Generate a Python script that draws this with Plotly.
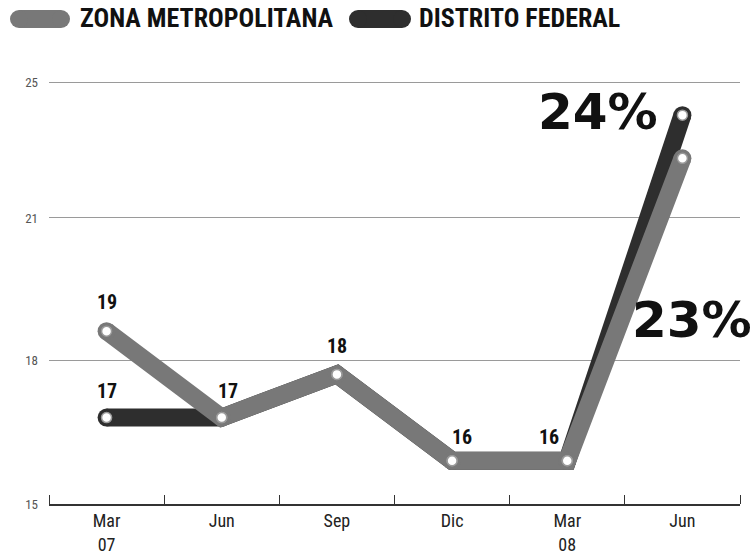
import plotly.graph_objects as go

periods = ["Mar 07", "Jun 07", "Sep 07", "Dic 07", "Mar 08", "Jun 08"]
tick_labels = ["Mar<br>07", "Jun", "Sep", "Dic", "Mar<br>08", "Jun"]
zona_metropolitana = [19, 17, 18, 16, 16, 23]
distrito_federal = [17, 17, 18, 16, 16, 24]
y_tick_labels = ["15", "18", "21", "25"]

x_idx = list(range(len(periods)))

ZM_COLOR = "#787878"
DF_COLOR = "#2e2e2e"
COND = "Roboto Condensed, Archivo Narrow, Asap Condensed, Roboto"

fig = go.Figure()
fig.add_trace(go.Scatter(x=x_idx, y=distrito_federal, mode="lines+markers",
                         line=dict(color=DF_COLOR, width=18),
                         marker=dict(color=DF_COLOR, size=18), hoverinfo="skip"))
fig.add_trace(go.Scatter(x=x_idx, y=zona_metropolitana, mode="lines+markers",
                         line=dict(color=ZM_COLOR, width=18),
                         marker=dict(color=ZM_COLOR, size=18), hoverinfo="skip"))
fig.add_trace(go.Scatter(x=x_idx, y=distrito_federal, mode="markers",
                         marker=dict(color="white", size=10, line=dict(color="#999", width=1.5))))
fig.add_trace(go.Scatter(x=x_idx, y=zona_metropolitana, mode="markers",
                         marker=dict(color="white", size=10, line=dict(color="#999", width=1.5))))

lab_font = dict(family=COND, size=20, color="#111", weight="bold")
ann = []
def lab(i, val, text, dx, dy, font=lab_font, xanchor="center"):
    ann.append(dict(x=x_idx[i], y=val, text=text, showarrow=False, xshift=dx, yshift=dy,
                    font=font, xanchor=xanchor, yanchor="middle"))

lab(0, zona_metropolitana[0], str(zona_metropolitana[0]), 0, 29)
lab(0, distrito_federal[0], str(distrito_federal[0]), 0, 27)
lab(1, zona_metropolitana[1], str(zona_metropolitana[1]), 6, 27)
lab(2, zona_metropolitana[2], str(zona_metropolitana[2]), 0, 28)
lab(3, zona_metropolitana[3], str(zona_metropolitana[3]), 10, 24)
lab(4, zona_metropolitana[4], str(zona_metropolitana[4]), -18, 24)
big = dict(family="DejaVu Sans", size=50, color="#111", weight="bold")
lab(5, distrito_federal[5], f"{distrito_federal[5]}%", -22, 3, font=big, xanchor="right")
lab(5, zona_metropolitana[5], f"{zona_metropolitana[5]}%", 72, -162, font=big, xanchor="right")

leg_font = dict(family=COND, size=26, color="#111", weight="bold")
ann.append(dict(xref="paper", yref="paper", x=0, y=1, xshift=29, yshift=28, xanchor="left", yanchor="middle",
                text="ZONA METROPOLITANA", showarrow=False, font=leg_font))
ann.append(dict(xref="paper", yref="paper", x=0, y=1, xshift=368, yshift=28, xanchor="left", yanchor="middle",
                text="DISTRITO FEDERAL", showarrow=False, font=leg_font))

shapes = []
def pill(x0, x1, color):
    r = 9
    common = dict(xref="paper", yref="paper", xsizemode="pixel", ysizemode="pixel", xanchor=0, yanchor=1,
                  fillcolor=color, line=dict(width=0), layer="above")
    shapes.append(dict(type="rect", x0=x0 + r, x1=x1 - r, y0=18, y1=36, **common))
    shapes.append(dict(type="circle", x0=x0, x1=x0 + 2 * r, y0=18, y1=36, **common))
    shapes.append(dict(type="circle", x0=x1 - 2 * r, x1=x1, y0=18, y1=36, **common))
pill(-39, 21, ZM_COLOR)
pill(300, 362, DF_COLOR)

fig.update_layout(
    width=753, height=559, margin=dict(l=49, r=13, t=46, b=55, autoexpand=False),
    paper_bgcolor="white", plot_bgcolor="white", showlegend=False,
    annotations=ann, shapes=shapes,
    font=dict(family=COND),
)
fig.update_xaxes(range=[-0.5, 5.5], tickmode="array", tickvals=x_idx, ticktext=tick_labels, automargin=False,
                 ticks="", showgrid=False, zeroline=False, showline=True, linecolor="#333", linewidth=1.5,
                 tickfont=dict(size=18, color="#222"),
                 minor=dict(tickmode="array", tickvals=[i - 0.5 for i in range(len(periods) + 1)],
                            ticks="inside", ticklen=9, tickcolor="#333", tickwidth=1, showgrid=False))
fig.update_yaxes(range=[15, 25.6], tickmode="array", tickvals=[15, 18.33, 21.62, 24.75], ticktext=y_tick_labels,
                 automargin=False, showgrid=True, gridcolor="#9a9a9a", gridwidth=1, zeroline=False, showline=False,
                 ticks="", ticklabelstandoff=10, tickfont=dict(size=13, color="#555"))

fig.write_html("out.html", config={"displayModeBar": False},
               post_script="document.body.style.margin='0';document.body.style.overflow='hidden';")
